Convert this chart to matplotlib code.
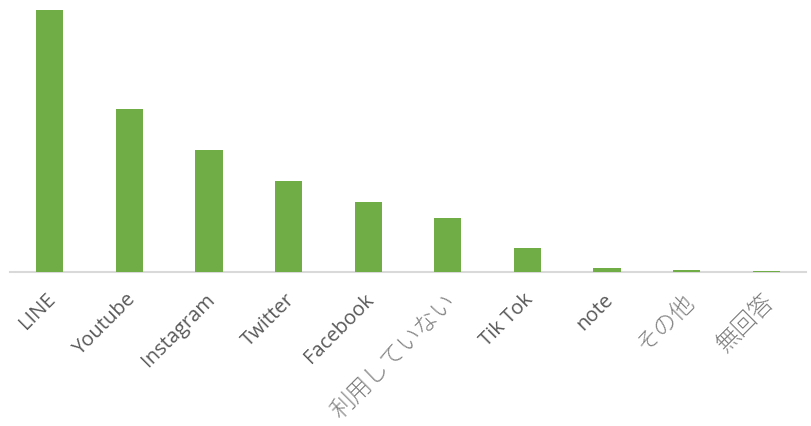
import matplotlib.pyplot as plt
import matplotlib.transforms as mtransforms
import numpy as np

plt.rcParams['font.family'] = ['Open Sans', 'Noto Sans CJK JP', 'DejaVu Sans']

categories = ['LINE', 'Youtube', 'Instagram', 'Twitter', 'Facebook',
              '利用していない', 'Tik Tok', 'note', 'その他', '無回答']
values = [262, 163, 122, 91, 70, 54, 24, 4, 2.5, 1.5]

fig = plt.figure(figsize=(8.12, 4.27), dpi=100)
ax = fig.add_axes([10 / 812, 1 - 273 / 427, 796 / 812, 263 / 427])

x = np.arange(len(categories))
ax.bar(x, values, width=0.34, color='#70AD47', zorder=3)
ax.set_xlim(-0.5, len(categories) - 0.5)
ax.set_ylim(0, 263)

for s in ['top', 'right', 'left']:
    ax.spines[s].set_visible(False)
ax.spines['bottom'].set_color('#D9D9D9')
ax.spines['bottom'].set_linewidth(1.5)
ax.spines['bottom'].set_zorder(1)
ax.set_yticks([])
ax.set_xticks(x)
ax.set_xticklabels(categories, rotation=45, ha='right', va='top',
                   rotation_mode='anchor', fontsize=14.5, color='#595959')
ax.tick_params(axis='x', length=0, pad=12)
shift = mtransforms.ScaledTranslation(-4 / 100, 0, fig.dpi_scale_trans)
for lbl in ax.get_xticklabels():
    lbl.set_transform(lbl.get_transform() + shift)
    if not lbl.get_text().isascii():
        lbl.set_fontweight('light')
        lbl.set_fontsize(17)
        lbl.set_color('#7f7f7f')

fig.savefig('out.png', dpi=100)
